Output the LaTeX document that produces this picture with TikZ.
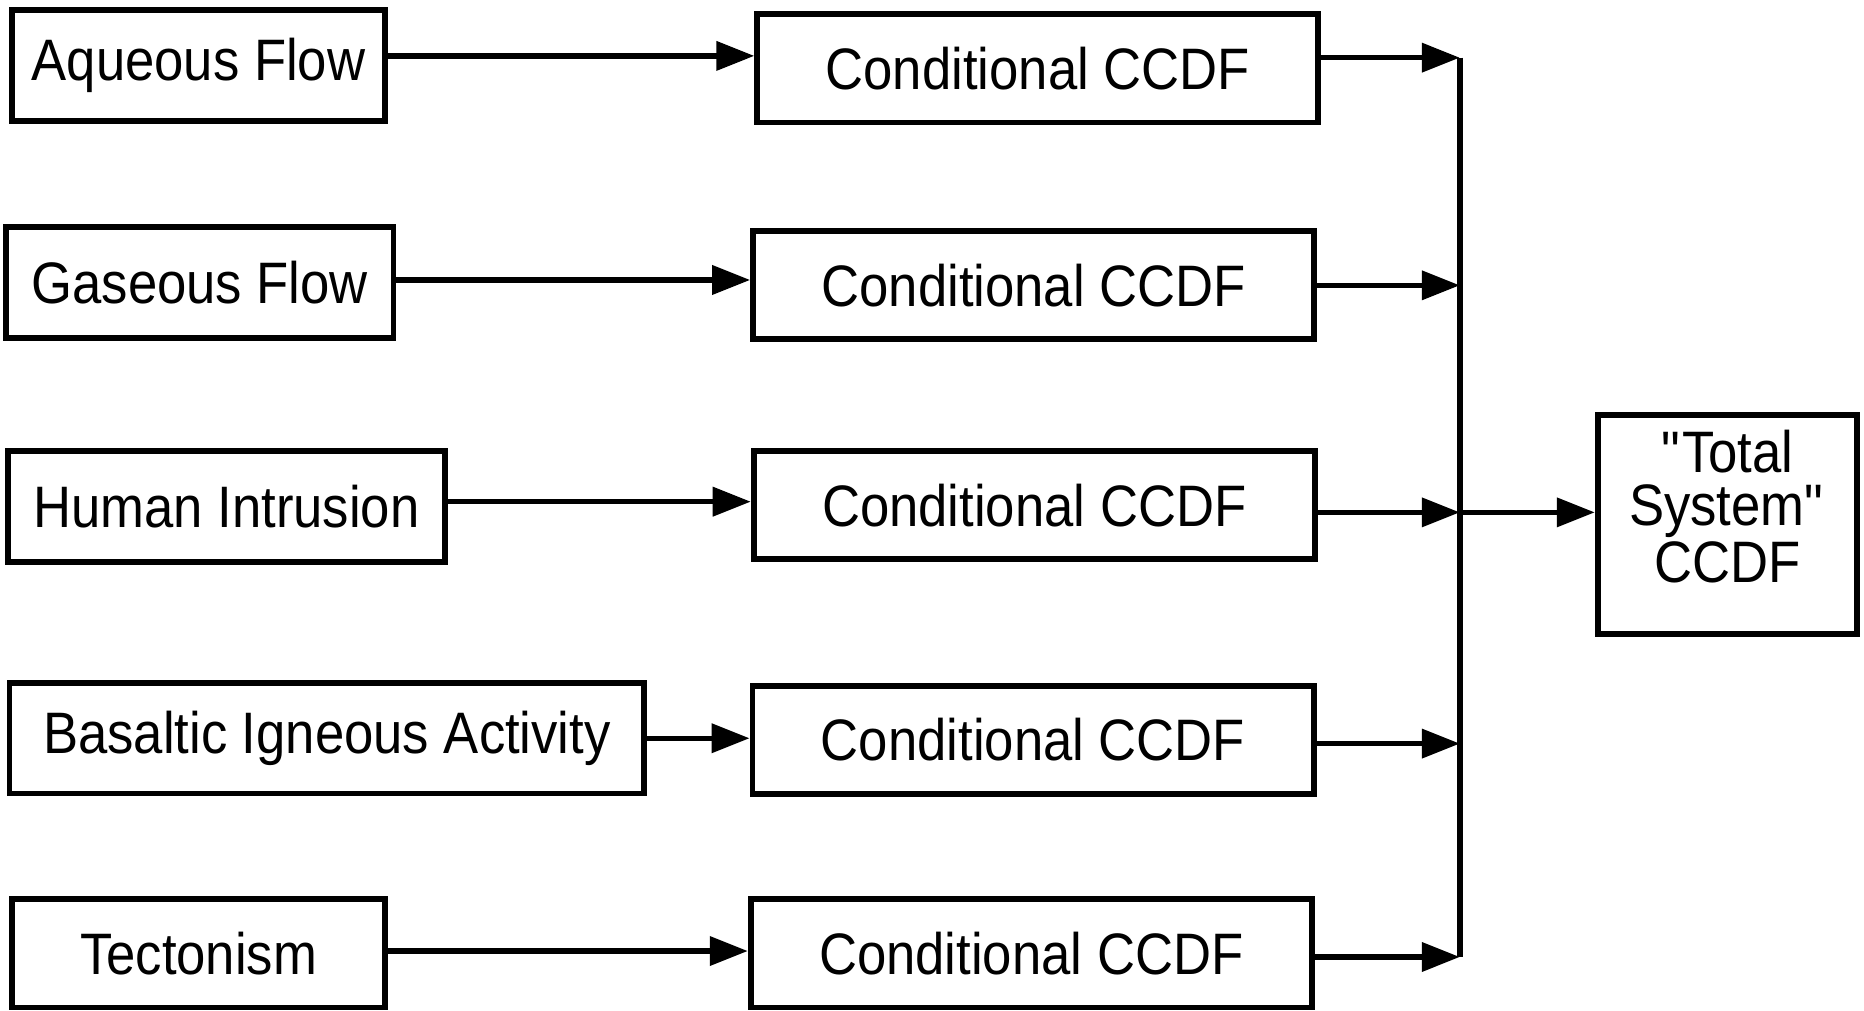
\documentclass[tikz,border=0pt]{standalone}
\usepackage{fontspec}
\setmainfont{Liberation Sans}[FakeStretch=0.9]
\usetikzlibrary{arrows.meta, positioning}
\tikzstyle{escenario} = [draw, line width=1.4pt, rectangle, inner sep=0pt, minimum height=9.3mm, font=\fontsize{14}{12.5}\selectfont]
\tikzstyle{condicional} = [escenario, minimum width=47.2mm, minimum height=9.1mm]
\tikzstyle{total} = [escenario, align=center, minimum width=21.8mm, minimum height=18.4mm, text depth=3mm]
\tikzstyle{flecha} = [line width=1.3pt, -{Triangle[length=3.2mm, width=2.4mm]}]

\begin{document}
\begin{tikzpicture}[x=0.1mm, y=-0.1mm]
	\useasboundingbox (0,0) rectangle (1568,850);
	% escenarios
	\node[escenario, minimum width=31.4mm] (aqueous) at (167,55) {Aqueous Flow};
	\node[escenario, minimum width=32.6mm] (gaseous) at (168,237.5) {Gaseous Flow};
	\node[escenario, minimum width=36.7mm] (human) at (190.5,426) {Human Intrusion};
	\node[escenario, minimum width=53.4mm] (basaltic) at (275,621) {Basaltic Igneous Activity};
	\node[escenario, minimum width=31.4mm, minimum height=9.1mm] (tectonism) at (167,802) {Tectonism};
	% ccdf condicionales
	\node[condicional] (ccdfa) at (873,57.5) {Conditional CCDF};
	\node[condicional] (ccdfb) at (869.5,240) {Conditional CCDF};
	\node[condicional] (ccdfc) at (870,425) {Conditional CCDF};
	\node[condicional] (ccdfd) at (869,622.5) {Conditional CCDF};
	\node[condicional] (ccdfe) at (867.5,802) {Conditional CCDF};
	% total
	\node[total] (sistema) at (1453,441) {\textquotedbl Total\\System\textquotedbl\\CCDF};
	\coordinate (bus) at (1228,0);
	\draw[flecha] ([yshift=0.8mm]aqueous.east) -- ([yshift=0.8mm]aqueous.east -| ccdfa.west);
	\draw[flecha] ([yshift=0.2mm]gaseous.east) -- ([yshift=0.2mm]gaseous.east -| ccdfb.west);
	\draw[flecha] ([yshift=0.4mm]human.east) -- ([yshift=0.4mm]human.east -| ccdfc.west);
	\draw[flecha] (basaltic.east) -- (basaltic.east -| ccdfd.west);
	\draw[flecha] ([yshift=0.2mm]tectonism.east) -- ([yshift=0.2mm]tectonism.east -| ccdfe.west);
	\coordinate (busa) at ([yshift=0.9mm]ccdfa.east -| bus);
	\coordinate (busc) at ([yshift=-0.6mm]ccdfc.east -| bus);
	\coordinate (buse) at ([yshift=-0.3mm]ccdfe.east -| bus);
	\draw[flecha] ([yshift=0.9mm]ccdfa.east) -- (busa);
	\draw[flecha] (ccdfb.east) -- (ccdfb.east -| bus);
	\draw[flecha] ([yshift=-0.6mm]ccdfc.east) -- (busc);
	\draw[flecha] ([yshift=-0.3mm]ccdfd.east) -- ([yshift=-0.3mm]ccdfd.east -| bus);
	\draw[flecha] ([yshift=-0.3mm]ccdfe.east) -- (buse);
	\draw[line width=1.4pt] (busa) -- (buse);
	\draw[flecha] (busc) -- (busc -| sistema.west);
\end{tikzpicture}
\end{document}
